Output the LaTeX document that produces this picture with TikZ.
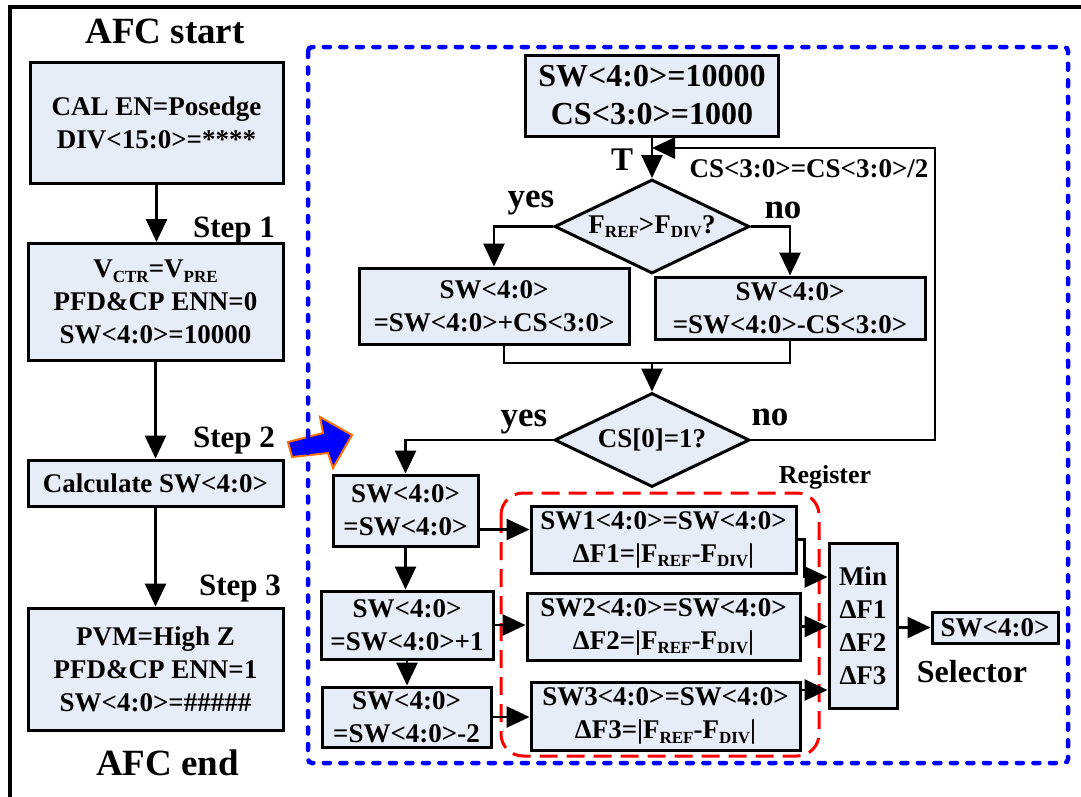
\documentclass[tikz,border=0pt]{standalone}
\usepackage{fontspec}
\setmainfont{Liberation Serif}
\usetikzlibrary{arrows.meta,shapes.geometric,calc}
\definecolor{boxfill}{RGB}{231,237,247}
\definecolor{dblue}{RGB}{0,0,255}
\definecolor{dred}{RGB}{255,0,0}
\definecolor{orng}{RGB}{255,110,0}
\newcommand{\sbs}[1]{\raisebox{-0.17em}{\fontsize{17}{17}\selectfont #1}}
\begin{document}
\begin{tikzpicture}[x=1pt,y=-1pt,
  box/.style={draw, line width=3pt, fill=boxfill, inner sep=0pt, align=center,
    font=\fontsize{27}{33}\selectfont\bfseries},
  dia/.style={draw, line width=3pt, fill=boxfill, diamond, aspect=2.1, inner sep=0pt,
    minimum width=195pt, minimum height=94pt, font=\fontsize{27}{33}\selectfont\bfseries},
  arr/.style={line width=2.8pt, -{Triangle[length=23pt,width=21pt]}},
  ln/.style={line width=2.8pt},
  lbl/.style={anchor=base, inner sep=0pt},
]
\useasboundingbox (0,0) rectangle (1081,796);
\fill[white] (0,0) rectangle (1081,796);
% outer frame
\draw[line width=4pt] (10,800) -- (10,7) -- (1085,7);

% left column
\node[lbl, font=\fontsize{37}{37}\selectfont\bfseries] (start) at (165,43) {AFC start};
\node[box, minimum width=253pt, minimum height=121pt] (L1) at (156.5,122.5) {CAL EN=Posedge\\DIV<15:0>=****};
\node[box, minimum width=255pt, minimum height=117pt] (L2) at (155.5,302) {V\sbs{CTR}=V\sbs{PRE}\\PFD\&CP ENN=0\\SW<4:0>=10000};
\node[box, minimum width=255pt, minimum height=46pt] (L3) at (155.5,483) {Calculate SW<4:0>};
\node[box, minimum width=255pt, minimum height=122pt] (L4) at (155.5,669) {PVM=High Z\\PFD\&CP ENN=1\\SW<4:0>=\#\#\#\#\#};
\node[lbl, font=\fontsize{37}{37}\selectfont\bfseries] (end) at (167.5,775) {AFC end};
\node[lbl, font=\fontsize{31}{31}\selectfont\bfseries] (s1) at (234,237) {Step 1};
\node[lbl, font=\fontsize{31}{31}\selectfont\bfseries] (s2) at (234,447) {Step 2};
\node[lbl, font=\fontsize{31}{31}\selectfont\bfseries] (s3) at (240,595) {Step 3};
\draw[arr] (L1.south) -- (L1.south |- L2.north);
\draw[arr] (L2.south) -- (L2.south |- L3.north);
\draw[arr] (L3.south) -- (L3.south |- L4.north);

% blue fat arrow
\draw[orng, line width=2pt, fill=dblue, line join=miter]
  (288,442) -- (323,433) -- (320,417) -- (352,435) -- (333,468) -- (328,453) -- (292,457) -- cycle;

% dashed frames
\draw[dblue, line width=4.5pt, line cap=round, dash pattern=on 6pt off 10.5pt, rounded corners=4pt]
  (308,47) rectangle (1068,763);
\draw[dred, line width=3pt, dash pattern=on 18pt off 9pt, rounded corners=22pt]
  (501,493) rectangle (819,756);
\node[lbl, font=\fontsize{26}{26}\selectfont\bfseries] (reg) at (825,483) {Register};

% algorithm
\node[box, minimum width=253pt, minimum height=81pt, font=\fontsize{32}{38}\selectfont\bfseries] (T0) at (652,95.5) {SW<4:0>=10000\\CS<3:0>=1000};
\node[dia] (D1) at (652,226.5) {F\sbs{REF}>F\sbs{DIV}?};
\node[box, minimum width=270pt, minimum height=76pt] (M1) at (494,306) {SW<4:0>\\=SW<4:0>+CS<3:0>};
\node[box, minimum width=270pt, minimum height=62pt] (M2) at (790,308) {SW<4:0>\\=SW<4:0>-CS<3:0>};
\node[dia] (D2) at (652,440) {CS[0]=1?};
\coordinate (J) at (652,363);
\coordinate (C1) at (935,440);
\coordinate (C2) at (935,148);

\node[lbl, font=\fontsize{33}{33}\selectfont\bfseries] (tT) at (622,170) {T};
\node[lbl, font=\fontsize{35}{35}\selectfont\bfseries] (y1) at (531,207) {yes};
\node[lbl, font=\fontsize{35}{35}\selectfont\bfseries] (n1) at (783,218) {no};
\node[lbl, font=\fontsize{35}{35}\selectfont\bfseries] (y2) at (524,426) {yes};
\node[lbl, font=\fontsize{35}{35}\selectfont\bfseries] (n2) at (770,425) {no};
\node[lbl, font=\fontsize{27}{27}\selectfont\bfseries] (cs) at (809,177) {CS<3:0>=CS<3:0>/2};

\draw[arr] (T0.south) -- (D1.north);
\draw[arr] (D1.west) -| (M1.north);
\draw[arr] (D1.east) -| (M2.north);
\draw[ln] ([xshift=10pt]M1.south) |- (J) -| (M2.south);
\draw[arr] (J) -- (J |- D2.north);
\draw[arr] (D2.east) -- (C1) -- (C2) -- (C2 -| T0.south);

% lower left boxes
\node[box, minimum width=145pt, minimum height=71pt] (B1) at (405.5,510.5) {SW<4:0>\\=SW<4:0>};
\node[box, minimum width=172pt, minimum height=68pt] (B2) at (407,625) {SW<4:0>\\=SW<4:0>+1};
\node[box, minimum width=169pt, minimum height=60pt] (B3) at (406.5,717) {SW<4:0>\\=SW<4:0>-2};
\draw[arr] (D2.west) -| (B1.north);
\draw[arr] (B1.south) -- (B1.south |- B2.north);
\draw[arr] (B2.south) -- (B2.south |- B3.north);

% register boxes
\node[box, minimum width=265pt, minimum height=67pt] (R1) at (663.5,539.5) {SW1<4:0>=SW<4:0>\\ΔF1=|F\sbs{REF}-F\sbs{DIV}|};
\node[box, minimum width=273pt, minimum height=67pt] (R2) at (663.5,626.5) {SW2<4:0>=SW<4:0>\\ΔF2=|F\sbs{REF}-F\sbs{DIV}|};
\node[box, minimum width=269pt, minimum height=68pt] (R3) at (665.5,716) {SW3<4:0>=SW<4:0>\\ΔF3=|F\sbs{REF}-F\sbs{DIV}|};
\draw[arr] ([yshift=-19pt]B1.east) -- ([yshift=-19pt]B1.east -| R1.west);
\draw[arr] (B2.east) -- (B2.east -| R2.west);
\draw[arr] (B3.east) -- (B3.east -| R3.west);

% selector
\node[box, minimum width=68pt, minimum height=165pt] (S) at (863,625.5) {Min\\ΔF1\\ΔF2\\ΔF3};
\node[box, minimum width=126pt, minimum height=31pt] (O) at (995,627.5) {SW<4:0>};
\node[lbl, font=\fontsize{32}{32}\selectfont\bfseries] (sel) at (972,682) {Selector};
\draw[arr] (R1.east) -- ++(7pt,0) |- ([yshift=48.5pt]S.west);
\draw[arr] (R2.east) -- (R2.east -| S.west);
\draw[arr] ([yshift=26pt]R3.east) -- ([yshift=26pt]R3.east -| S.west);
\draw[arr] (S.east |- O.west) -- (O.west);
\end{tikzpicture}
\end{document}
